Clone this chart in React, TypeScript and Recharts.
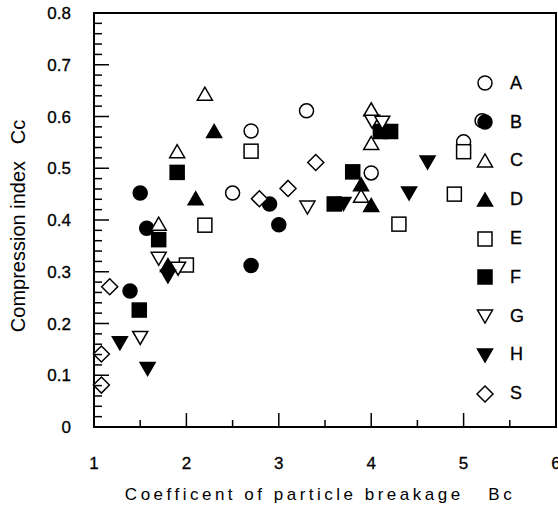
import React from 'react';
import { ScatterChart, Scatter, XAxis, YAxis, Legend, ReferenceArea } from 'recharts';

// Bc vs Cc, one array pair per material
const aBc = [2.5, 2.7, 3.3, 4.0, 5.0, 5.2];
const aCc = [0.452, 0.572, 0.611, 0.491, 0.551, 0.592];
const bBc = [1.39, 1.5, 1.57, 2.7, 2.9, 3.0];
const bCc = [0.263, 0.452, 0.384, 0.312, 0.431, 0.391];
const cBc = [1.7, 1.9, 2.2, 3.89, 4.0, 4.0];
const cCc = [0.392, 0.532, 0.643, 0.446, 0.548, 0.613];
const dBc = [1.8, 2.1, 2.3, 3.89, 4.0];
const dCc = [0.312, 0.441, 0.571, 0.468, 0.428];
const eBc = [2.0, 2.2, 2.7, 4.3, 4.9, 5.0];
const eCc = [0.313, 0.39, 0.533, 0.392, 0.45, 0.532];
const fBc = [1.49, 1.7, 1.9, 3.6, 3.8, 4.1, 4.21];
const fCc = [0.226, 0.362, 0.492, 0.431, 0.493, 0.571, 0.571];
const gBc = [1.5, 1.7, 1.91, 3.31, 4.01, 4.12];
const gCc = [0.173, 0.326, 0.307, 0.425, 0.591, 0.589];
const hBc = [1.28, 1.58, 1.8, 3.7, 4.41, 4.61];
const hCc = [0.163, 0.113, 0.292, 0.432, 0.452, 0.512];
const sBc = [1.08, 1.08, 1.17, 2.79, 3.1, 3.4];
const sCc = [0.081, 0.141, 0.271, 0.441, 0.461, 0.511];

const xTickLabels = ['1', '2', '3', '4', '5', '6'];
const yTickLabels = ['0', '0.1', '0.2', '0.3', '0.4', '0.5', '0.6', '0.7', '0.8'];

const pts = (xs: number[], ys: number[]) => xs.map((x, i) => ({ x, y: ys[i] }));

type Kind = 'circle' | 'square' | 'up' | 'down' | 'diamond';

const series: { name: string; kind: Kind; filled: boolean; data: { x: number; y: number }[] }[] = [
  { name: 'A', kind: 'circle', filled: false, data: pts(aBc, aCc) },
  { name: 'B', kind: 'circle', filled: true, data: pts(bBc, bCc) },
  { name: 'C', kind: 'up', filled: false, data: pts(cBc, cCc) },
  { name: 'D', kind: 'up', filled: true, data: pts(dBc, dCc) },
  { name: 'E', kind: 'square', filled: false, data: pts(eBc, eCc) },
  { name: 'F', kind: 'square', filled: true, data: pts(fBc, fCc) },
  { name: 'G', kind: 'down', filled: false, data: pts(gBc, gCc) },
  { name: 'H', kind: 'down', filled: true, data: pts(hBc, hCc) },
  { name: 'S', kind: 'diamond', filled: false, data: pts(sBc, sCc) },
];

const xTicks = [1, 1.5, 2, 2.5, 3, 3.5, 4, 4.5, 5, 5.5, 6];
const yTicks: number[] = [];
for (let i = 0; i <= 40; i++) yTicks.push(i / 50);
const isMajorY = (v: number) => Math.round(v * 100) % 10 === 0;

const FONT = 'Liberation Sans, Arial, Helvetica, sans-serif';

function Marker({ cx, cy, kind, filled }: { cx: number; cy: number; kind: Kind; filled: boolean }) {
  const fill = filled ? '#000' : '#fff';
  const p = { fill, stroke: '#000', strokeWidth: 1.5 };
  if (kind === 'circle') return <circle cx={cx} cy={cy} r={7} {...p} />;
  if (kind === 'square') return <rect x={cx - 7} y={cy - 7} width={14} height={14} {...p} />;
  if (kind === 'up')
    return <polygon points={`${cx},${cy - 7} ${cx - 7.5},${cy + 6} ${cx + 7.5},${cy + 6}`} {...p} />;
  if (kind === 'down')
    return <polygon points={`${cx - 7.5},${cy - 6} ${cx + 7.5},${cy - 6} ${cx},${cy + 7}`} {...p} />;
  return <polygon points={`${cx},${cy - 8} ${cx + 8},${cy} ${cx},${cy + 8} ${cx - 8},${cy}`} {...p} />;
}

// tick marks drawn as paths, pointing into the plot
const seg = (x1: number, y1: number, x2: number, y2: number) => (
  <path d={`M${x1},${y1}L${x2},${y2}`} stroke="#000" strokeWidth={1.5} fill="none" />
);

const BottomTick = ({ x, y, payload }: any) => {
  const v = Number(payload.value);
  const major = Number.isInteger(v);
  const px = Number(x);
  const py = Number(y);
  return (
    <g>
      {seg(px, py, px, py - (major ? 14 : 7))}
      {major ? (
        <text x={px} y={py + 42} textAnchor="middle" fontSize={17} fontFamily={FONT} fill="#000" stroke="#000" strokeWidth={0.3}>
          {xTickLabels[v - 1]}
        </text>
      ) : null}
    </g>
  );
};

const TopTick = ({ x, y, payload }: any) => {
  const major = Number.isInteger(Number(payload.value));
  return <g>{seg(Number(x), Number(y), Number(x), Number(y) + (major ? 13 : 7))}</g>;
};

const LeftTick = ({ x, y, payload }: any) => {
  const v = Number(payload.value);
  const major = isMajorY(v);
  const px = Number(x);
  const py = Number(y);
  return (
    <g>
      {seg(px, py, px + (major ? 15 : 8), py)}
      {major ? (
        <text x={px - 23} y={py + 6} textAnchor="end" fontSize={17} fontFamily={FONT} fill="#000" stroke="#000" strokeWidth={0.3}>
          {yTickLabels[Math.round(v * 10)]}
        </text>
      ) : null}
    </g>
  );
};

const RightTick = ({ x, y, payload }: any) => {
  const major = isMajorY(Number(payload.value));
  return <g>{seg(Number(x), Number(y), Number(x) - (major ? 15 : 8), Number(y))}</g>;
};

const XTitle = () => (
  <text x={320} y={494} textAnchor="middle" dominantBaseline="central" fontSize={17} fontFamily={FONT}
    letterSpacing={3.5} fill="#000" style={{ whiteSpace: 'pre' }}>
    {'Coefficent of particle breakage   Bc'}
  </text>
);

const YTitle = () => (
  <text x={18} y={226} transform="rotate(-90 18 226)" textAnchor="middle" dominantBaseline="central" fontSize={20}
    fontFamily={FONT} fill="#000" style={{ whiteSpace: 'pre' }}>
    {'Compression index   Cc'}
  </text>
);

const LegendBox = () => (
  <div style={{ fontFamily: FONT, fontSize: 18, color: '#000' }}>
    {series.map((s) => (
      <div key={s.name} style={{ display: 'flex', alignItems: 'center', height: 38.8 }}>
        <svg width={20} height={20} style={{ display: 'block' }}>
          <Marker cx={10} cy={10} kind={s.kind} filled={s.filled} />
        </svg>
        <span style={{ marginLeft: 15, WebkitTextStroke: '0.3px #000' }}>{s.name}</span>
      </div>
    ))}
  </div>
);

export default function App() {
  return (
    <div style={{ position: 'absolute', left: 0, top: 0 }}>
      <ScatterChart width={558} height={510} margin={{ top: 13, right: 0, bottom: 0, left: 0 }}>
        <XAxis xAxisId="b" type="number" dataKey="x" domain={[1, 6]} ticks={xTicks} interval={0} height={83}
          tickSize={0} tickMargin={0} tickLine={false} axisLine={false} tick={BottomTick} label={<XTitle />} />
        <XAxis xAxisId="t" orientation="top" type="number" dataKey="x" domain={[1, 6]} ticks={xTicks} interval={0} height={0}
          tickSize={0} tickMargin={0} tickLine={false} axisLine={false} tick={TopTick} />
        <YAxis yAxisId="l" type="number" dataKey="y" domain={[0, 0.8]} ticks={yTicks} interval={0} width={94}
          tickSize={0} tickMargin={0} tickLine={false} axisLine={false} tick={LeftTick} label={<YTitle />} />
        <YAxis yAxisId="r" orientation="right" type="number" dataKey="y" domain={[0, 0.8]} ticks={yTicks} interval={0} width={2}
          tickSize={0} tickMargin={0} tickLine={false} axisLine={false} tick={RightTick} />
        <ReferenceArea xAxisId="b" yAxisId="l" x1={1} x2={6} y1={0} y2={0.8} fill="none" fillOpacity={0}
          stroke="#000" strokeWidth={2} strokeOpacity={1} ifOverflow="visible" />
        {series.map((s) => (
          <Scatter
            key={s.name}
            name={s.name}
            data={s.data}
            xAxisId="b"
            yAxisId="l"
            isAnimationActive={false}
            shape={(props: any) => <Marker cx={props.cx} cy={props.cy} kind={s.kind} filled={s.filled} />}
          />
        ))}
        <Legend
          layout="vertical"
          align="center"
          verticalAlign="middle"
          content={LegendBox}
          wrapperStyle={{ position: 'absolute', left: 475, top: 64, width: 70 }}
        />
      </ScatterChart>
    </div>
  );
}
